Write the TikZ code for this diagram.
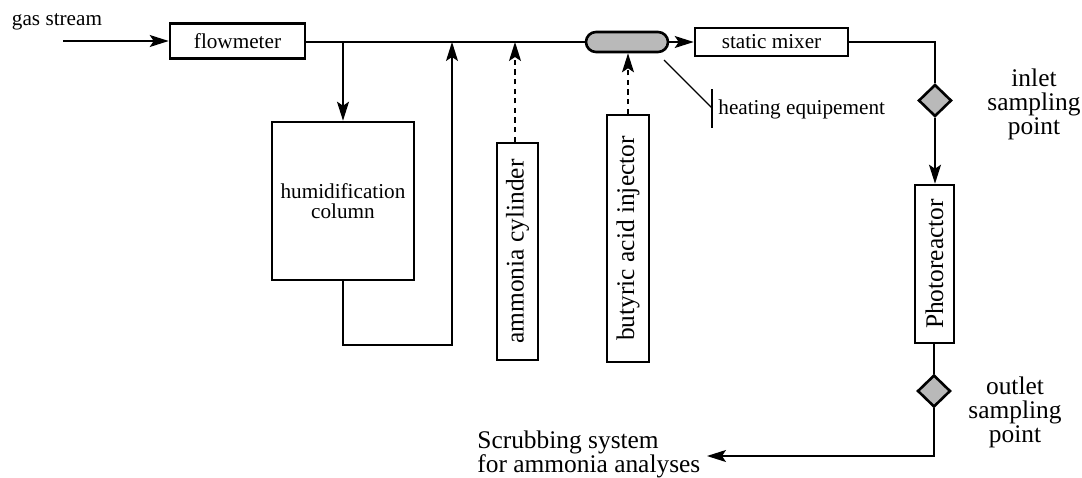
\documentclass[tikz,border=0pt]{standalone}
\usepackage{fontspec}
\usepackage{graphicx}
\setmainfont{Liberation Serif}
\usetikzlibrary{shapes.geometric,arrows.meta}
\newcommand\labsmall{\fontsize{10.6}{11}\selectfont}
\newcommand\labbig{\fontsize{12.7}{12}\selectfont}
\definecolor{unitgray}{RGB}{185,185,185}
\begin{document}
\begin{tikzpicture}[x=0.5pt,y=-0.5pt,
  unit/.style={draw,line width=1.3pt,inner sep=0pt,align=center,font=\labsmall},
  vunit/.style={draw,line width=1.3pt,inner sep=0pt,font=\labbig},
  valve/.style={draw,line width=1.3pt,fill=unitgray,shape=diamond,inner sep=0pt,
    minimum width=16.5pt,minimum height=16pt},
  flow/.style={line width=0.7pt,-{Stealth[length=9.5pt,width=6pt,inset=2pt]}},
  pipe/.style={line width=0.7pt},
  feed/.style={line width=0.7pt,dash pattern=on 2.6pt off 2.2pt,
    -{Stealth[length=9.5pt,width=6pt,inset=2pt]}},
  lab/.style={inner sep=0pt,align=center}]
\useasboundingbox (0,0) rectangle (1082,477);

% process units
\node[unit,minimum width=67.5pt,minimum height=17.5pt] (flowm) at (237.5,41) {flowmeter};
\node[unit,minimum width=71pt,minimum height=79pt] (humid) at (343,201)
  {humidification\\[-1pt]column};
\node[vunit,minimum width=20.5pt,minimum height=108.5pt] (amm) at (517.5,251.5)
  {\rotatebox{90}{ammonia cylinder}};
\node[vunit,minimum width=21pt,minimum height=123.5pt] (but) at (628,238.5)
  {\rotatebox{90}{butyric acid injector}};
\node[draw,line width=1.3pt,fill=unitgray,rounded corners=5pt,inner sep=0pt,
  minimum width=41pt,minimum height=10pt] (heater) at (627,42) {};
\node[unit,minimum width=76.5pt,minimum height=14pt] (mixer) at (771.5,42) {static mixer};
\node[valve] (inlet) at (935,100.5) {};
\node[vunit,minimum width=19.5pt,minimum height=79pt] (photo) at (934.5,264)
  {\rotatebox{90}{Photoreactor}};
\node[valve] (outlet) at (934,391) {};

% labels
\node[lab,font=\labsmall] (gas) at (57,22) {gas stream};
\node[lab,font=\labbig] (inlab) at (1034,104) {inlet\\sampling\\point};
\node[lab,font=\labbig] (outlab) at (1015,412) {outlet\\sampling\\point};
\node[lab,font=\labbig,align=left,anchor=west] (scrub) at (477,454)
  {Scrubbing system\\for ammonia analyses};
\node[lab,font=\labsmall,anchor=west] (heatlab) at (718,109) {heating equipement};

% gas line
\coordinate (gasin) at (63,41);
\coordinate (split) at (343,42);
\coordinate (back) at (452,42);
\coordinate (loopbot) at (343,345);
\coordinate (ammin) at (515,42);
\coordinate (scrubend) at (707,456);

\draw[flow] (gasin) -- (flowm.west);
\draw[pipe] (flowm.east |- split) -- (heater.west);
\draw[flow] (split) -- (humid.north);
\draw[flow] (humid.south) -- (loopbot) -| (back);
\draw[feed] (amm.north -| ammin) -- (ammin);
\draw[feed] (but.north) -- (but.north |- heater.south);
\draw[flow] (heater.east) -- (mixer.west);
\draw[pipe] (mixer.east) -| (inlet.north);
\draw[flow] (inlet.south) -- (inlet.south |- photo.north);
\draw[pipe] (photo.south -| outlet.north) -- (outlet.north);
\draw[flow] (outlet.south) |- (scrubend);

% heating equipment pointer
\coordinate (heatA) at (664,60);
\coordinate (heatB) at (712,108);
\draw[pipe] (heatA) -- (heatB);
\draw[pipe] (712,89) -- (712,128);
\end{tikzpicture}
\end{document}
